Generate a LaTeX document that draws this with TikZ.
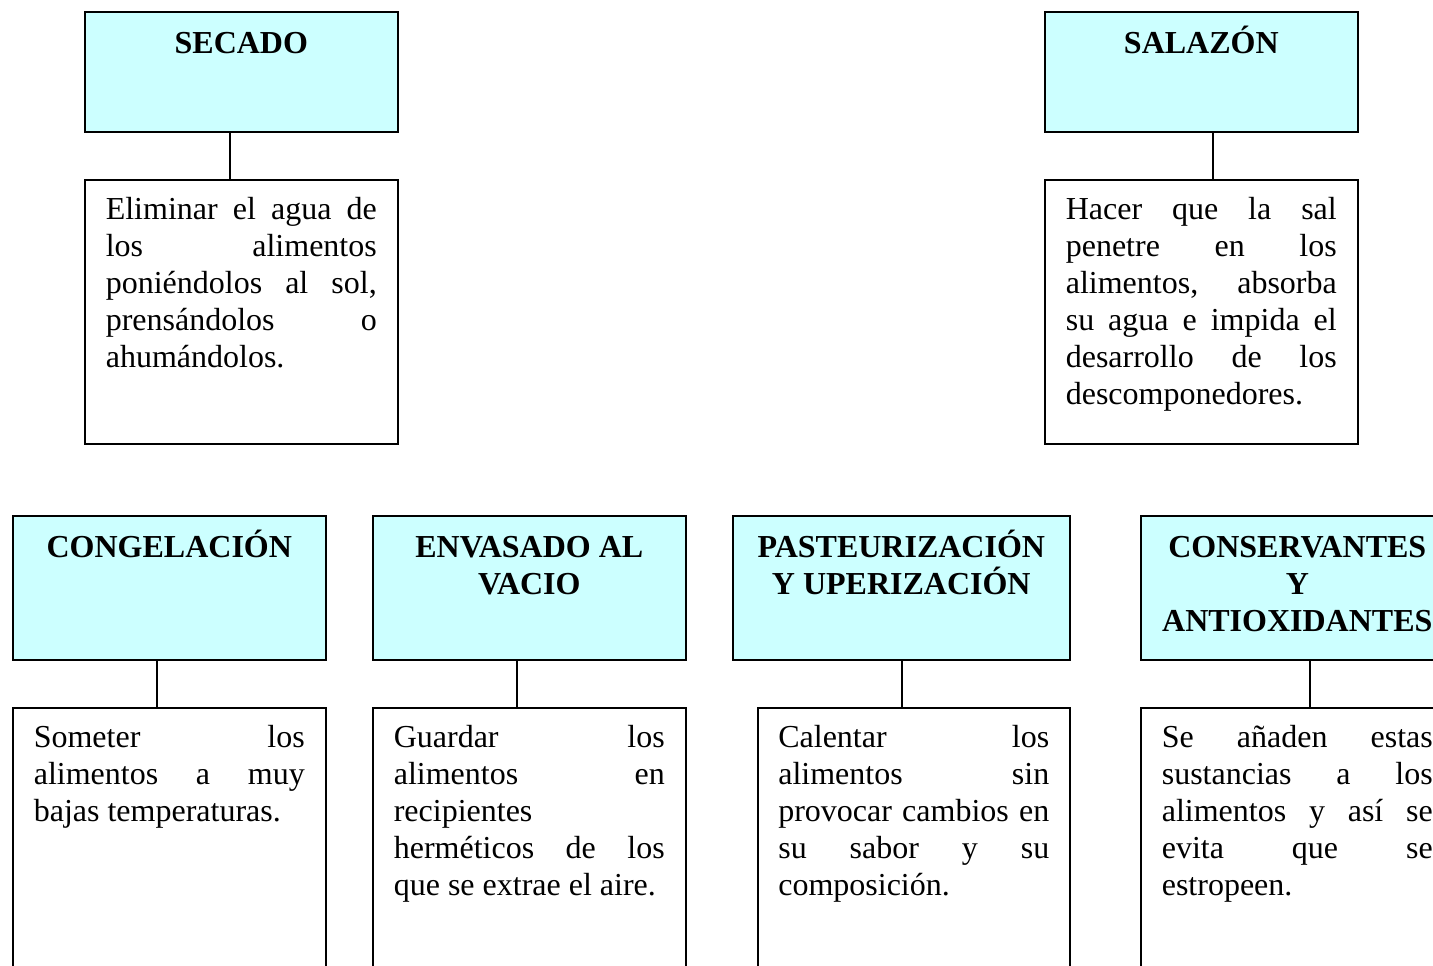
\documentclass[tikz,border=0pt]{standalone}
\usepackage{fontspec}
\setmainfont{Liberation Serif}
\definecolor{hdrfill}{RGB}{204,255,255}
\tikzset{
  boxbase/.style={draw=black, line width=1.6pt, inner ysep=0pt, inner xsep=0pt, anchor=north west,
                  font=\fontsize{32pt}{37pt}\selectfont},
  hdr/.style={boxbase, fill=hdrfill},
  bodybox/.style={boxbase, fill=white, inner xsep=21pt},
  conn/.style={draw=black, line width=1.6pt},
}
\newcommand{\hdrtext}[4]{\parbox[c][#1pt][t]{#2pt}{\centering\bfseries\rule{0pt}{#3pt}#4\par}}
\newcommand{\bodytext}[3]{\parbox[c][#1pt][t]{#2pt}{\hyphenpenalty=10000\tolerance=10000\hbadness=10000\rule{0pt}{39.5pt}#3\par}}
\begin{document}
\begin{tikzpicture}[x=1pt,y=-1pt]
\useasboundingbox (0,0) rectangle (1433,966);
\fill[white] (0,0) rectangle (1433,966);
\clip (0,0) rectangle (1433,966);

% top row
\node[hdr] (h1) at (84,11) {\hdrtext{120}{313}{42}{SECADO}};
\node[bodybox] (b1) at (84,179) {\bodytext{264}{271}{Eliminar el agua de\linebreak los alimentos\linebreak poniéndolos al sol,\linebreak prensándolos o\linebreak ahumándolos.}};

\node[hdr] (h2) at (1044,11) {\hdrtext{120}{313}{42}{SALAZÓN}};
\node[bodybox] (b2) at (1044,179) {\bodytext{264}{271}{Hacer que la sal\linebreak penetre en los\linebreak alimentos, absorba\linebreak su agua e impida el\linebreak desarrollo de los\linebreak descomponedores.}};

% bottom row
\node[hdr] (h3) at (12,515) {\hdrtext{144}{313}{41.5}{CONGELACIÓN}};
\node[bodybox] (b3) at (12,707) {\bodytext{330}{271}{Someter los\linebreak alimentos a muy\linebreak bajas temperaturas.}};

\node[hdr] (h4) at (372,515) {\hdrtext{144}{313}{41.5}{ENVASADO AL\\VACIO}};
\node[bodybox] (b4) at (372,707) {\bodytext{330}{271}{Guardar los\linebreak alimentos en\linebreak recipientes\linebreak herméticos de los\linebreak que se extrae el aire.}};

\node[hdr] (h5) at (732,515) {\hdrtext{144}{337}{41.5}{PASTEURIZACIÓN\\Y UPERIZACIÓN}};
\node[bodybox, inner xsep=20.5pt] (b5) at (757,707) {\bodytext{330}{271}{Calentar los\linebreak alimentos sin\linebreak provocar cambios en\linebreak su sabor y su\linebreak composición.}};

\node[hdr] (h6) at (1140,515) {\hdrtext{144}{313}{41.5}{CONSERVANTES\\Y\\ANTIOXIDANTES}};
\node[bodybox] (b6) at (1140,707) {\bodytext{330}{271}{Se añaden estas\linebreak sustancias a los\linebreak alimentos y así se\linebreak evita que se\linebreak estropeen.}};

% connectors
\draw[conn] ([xshift=-11.5pt]h1.south) -- ([xshift=-11.5pt]h1.south |- b1.north);
\draw[conn] ([xshift=11.5pt]h2.south) -- ([xshift=11.5pt]h2.south |- b2.north);
\draw[conn] ([xshift=-12.5pt]h3.south) -- ([xshift=-12.5pt]h3.south |- b3.north);
\draw[conn] ([xshift=-12.5pt]h4.south) -- ([xshift=-12.5pt]h4.south |- b4.north);
\draw[conn] ([xshift=0.5pt]h5.south) -- ([xshift=0.5pt]h5.south |- b5.north);
\draw[conn] ([xshift=12.5pt]h6.south) -- ([xshift=12.5pt]h6.south |- b6.north);
\end{tikzpicture}
\end{document}
